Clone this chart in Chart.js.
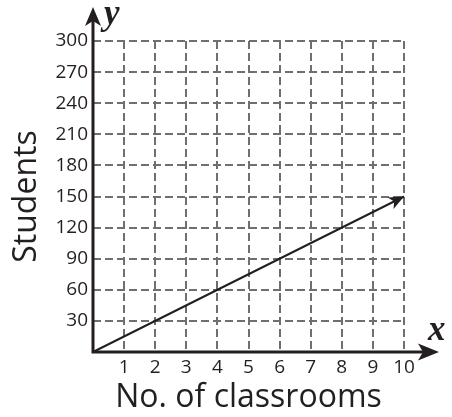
<!DOCTYPE html>
<html lang="en">
<head>
<meta charset="UTF-8">
<title>Students vs classrooms</title>
<script src="https://cdn.jsdelivr.net/npm/chart.js"></script>
<style>
    body { margin: 0; background: #fff; }
    .wrap { width: 452px; height: 417px; position: relative; }
</style>
</head>
<body>
<div class="wrap"><canvas id="chart"></canvas></div>
<script>
// data
const classrooms = [0, 10];
const students = [0, 150];
const xTicks = [1, 2, 3, 4, 5, 6, 7, 8, 9, 10];
const yTicks = [30, 60, 90, 120, 150, 180, 210, 240, 270, 300];

const ink = '#231f20';
const gridColor = '#6f6f6f';

function arrowHead(ctx, x, y, angle, len, half, notch) {
    ctx.save();
    ctx.translate(x, y);
    ctx.rotate(angle);
    ctx.beginPath();
    ctx.moveTo(0, 0);
    ctx.lineTo(-len, -half);
    ctx.lineTo(-len + notch, 0);
    ctx.lineTo(-len, half);
    ctx.closePath();
    ctx.fillStyle = ink;
    ctx.fill();
    ctx.restore();
}

// axes with arrows, letters and the arrow on the line
const axesPlugin = {
    id: 'axesPlugin',
    afterDatasetsDraw(chart) {
        const ctx = chart.ctx;
        const xs = chart.scales.x, ys = chart.scales.y;
        const x0 = xs.getPixelForValue(0), y0 = ys.getPixelForValue(0);
        const yTop = 7, xEnd = 439;

        ctx.save();
        ctx.strokeStyle = ink;
        ctx.lineWidth = 3;
        ctx.beginPath();
        ctx.moveTo(x0, y0 + 1.5);
        ctx.lineTo(x0, yTop + 10);
        ctx.moveTo(x0 - 1.5, y0);
        ctx.lineTo(xEnd - 10, y0);
        ctx.stroke();
        arrowHead(ctx, x0, yTop, -Math.PI / 2, 19, 8, 5);
        arrowHead(ctx, xEnd, y0, 0, 21, 8.5, 5);

        // arrow at end of the line
        const pts = chart.getDatasetMeta(0).data;
        const a = pts[pts.length - 2], b = pts[pts.length - 1];
        const ang = Math.atan2(b.y - a.y, b.x - a.x);
        arrowHead(ctx, b.x, b.y, ang, 15, 6.5, 4);

        ctx.fillStyle = ink;
        ctx.font = 'bold italic 35px "Liberation Serif"';
        ctx.textAlign = 'left';
        ctx.textBaseline = 'alphabetic';
        ctx.fillText('y', x0 + 11, 24);
        ctx.fillText('x', 428, 340);
        ctx.restore();
    }
};

new Chart(document.getElementById('chart'), {
    type: 'line',
    data: {
        datasets: [{
            data: classrooms.map((c, i) => ({ x: c, y: students[i] })),
            borderColor: ink,
            borderWidth: 2,
            pointRadius: 0,
            tension: 0,
            clip: false
        }]
    },
    options: {
        responsive: true,
        maintainAspectRatio: false,
        animation: false,
        layout: { padding: { left: 0, top: 41, right: 48, bottom: 0 } },
        plugins: { legend: { display: false }, tooltip: { enabled: false } },
        scales: {
            x: {
                type: 'linear',
                min: 0,
                max: 10,
                afterFit: s => { s.height = 65; },
                afterBuildTicks: s => { s.ticks = xTicks.map(v => ({ value: v })); },
                grid: { color: gridColor, lineWidth: 2, drawTicks: false },
                border: { display: false, dash: [8, 4] },
                ticks: {
                    color: ink,
                    padding: 4,
                    maxRotation: 0,
                    font: { family: '"Open Sans"', size: 19 }
                },
                title: {
                    display: true,
                    text: 'No. of classrooms',
                    color: ink,
                    padding: { top: 0, bottom: 0 },
                    font: { family: '"Open Sans"', size: 32 }
                }
            },
            y: {
                type: 'linear',
                min: 0,
                max: 300,
                afterFit: s => { s.width = 93; },
                afterBuildTicks: s => { s.ticks = yTicks.map(v => ({ value: v })); },
                grid: { color: gridColor, lineWidth: 2, drawTicks: false },
                border: { display: false, dash: [8, 4] },
                ticks: {
                    color: ink,
                    padding: 5,
                    font: { family: '"Open Sans"', size: 19 }
                },
                title: {
                    display: true,
                    text: 'Students',
                    color: ink,
                    padding: { top: 8, bottom: 0 },
                    font: { family: '"Open Sans"', size: 32 }
                }
            }
        }
    },
    plugins: [axesPlugin]
});
</script>
</body>
</html>
